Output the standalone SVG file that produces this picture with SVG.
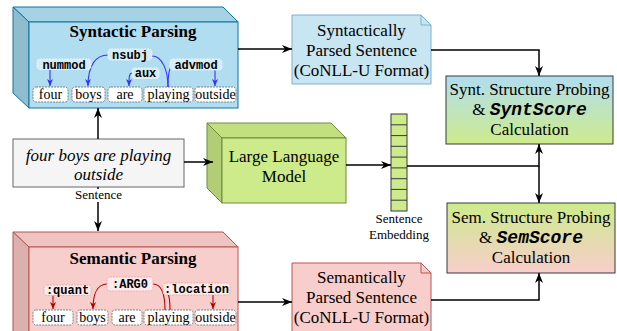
<svg xmlns="http://www.w3.org/2000/svg" width="617" height="331" viewBox="0 0 617 331" font-family="Liberation Serif, Times New Roman, serif">
<defs>
<marker id="arr" markerUnits="userSpaceOnUse" markerWidth="11" markerHeight="9" refX="10" refY="4" orient="auto">
<path d="M0,0 L10,4 L0,8 L3,4 z" fill="#000"/>
</marker>
<marker id="arrB" markerUnits="userSpaceOnUse" markerWidth="8" markerHeight="7" refX="7" refY="3" orient="auto">
<path d="M0,0 L7,3 L0,6 L2,3 z" fill="#3333ff"/>
</marker>
<marker id="arrR" markerUnits="userSpaceOnUse" markerWidth="8" markerHeight="7" refX="7" refY="3" orient="auto">
<path d="M0,0 L7,3 L0,6 L2,3 z" fill="#b20000"/>
</marker>
<linearGradient id="gSynt" x1="0" y1="0" x2="0" y2="1">
<stop offset="0" stop-color="#b1ddf0"/><stop offset="1" stop-color="#cdeb8b"/>
</linearGradient>
<linearGradient id="gSem" x1="0" y1="0" x2="0" y2="1">
<stop offset="0" stop-color="#cdeb8b"/><stop offset="1" stop-color="#f8cecc"/>
</linearGradient>
</defs>
<style>
.t17{font-size:17px}
.title{font-size:17px;font-weight:bold}
.word{font-size:14px}
.small{font-size:13px}
.mono{font-weight:bold;font-size:12px}
.wbox{fill:#fff;stroke:#666;stroke-width:0.8;stroke-dasharray:2 1}
.lblB{fill:#d7ebf6;stroke:#f4f9fc;stroke-width:0.8;stroke-dasharray:2 1}
.lblR{fill:#fcebea;stroke:#e2a5a3;stroke-width:0.8;stroke-dasharray:2 1}
.edge{fill:none;stroke:#000;stroke-width:1.5}
.eB{fill:none;stroke:#3333ff;stroke-width:1.1}
.eR{fill:none;stroke:#b20000;stroke-width:1.1}
</style>

<g id="syntactic-parsing">
<polygon points="13,7 223,7 238,22 29,22" fill="#a6d2e6" stroke="#10739e" stroke-width="1"/>
<polygon points="13,7 29,22 29,108 13,93" fill="#8fbccf" stroke="#10739e" stroke-width="1"/>
<rect x="29" y="22" width="209" height="86" fill="#b1ddf0" stroke="#10739e" stroke-width="1"/>
<text class="title" x="133" y="37" text-anchor="middle" font-family="Liberation Serif, serif">Syntactic Parsing</text>
<g id="synt-words" font-family="Liberation Serif, serif">
<rect class="wbox" x="33" y="87" width="35" height="15" rx="3"/>
<text class="word" x="50.5" y="99" text-anchor="middle">four</text>
<rect class="wbox" x="72" y="87" width="33" height="15" rx="3"/>
<text class="word" x="88.5" y="99" text-anchor="middle">boys</text>
<rect class="wbox" x="108" y="87" width="34" height="15" rx="3"/>
<text class="word" x="125" y="99" text-anchor="middle">are</text>
<rect class="wbox" x="144" y="87" width="49" height="15" rx="3"/>
<text class="word" x="168.5" y="99" text-anchor="middle">playing</text>
<rect class="wbox" x="195" y="87" width="41" height="15" rx="3"/>
<text class="word" x="215.5" y="99" text-anchor="middle">outside</text>
</g>
<g id="synt-arcs">
<path class="eB" d="M50,69 L50,86" marker-end="url(#arrB)"/>
<path class="eB" d="M108,55 C96,55 88,65 88,86" marker-end="url(#arrB)"/>
<path class="eB" d="M168,87 C168,70 162,56 152,56"/>
<path class="eB" d="M168,87 C168,76 169,68 172,66"/>
<path class="eB" d="M132,73 C129,73 129,78 129,86" marker-end="url(#arrB)"/>
<path class="eB" d="M215,70 L215,86" marker-end="url(#arrB)"/>
</g>
<g id="synt-labels" font-family="Liberation Mono, Courier New, monospace">
<rect class="lblB" x="37" y="59" width="54" height="10.5" rx="3"/>
<text class="mono" x="64" y="68.5" text-anchor="middle">nummod</text>
<rect class="lblB" x="108" y="49" width="44" height="11" rx="3"/>
<text class="mono" x="130" y="58.5" text-anchor="middle">nsubj</text>
<rect class="lblB" x="132" y="68" width="27" height="10.5" rx="3"/>
<text class="mono" x="145.5" y="77" text-anchor="middle">aux</text>
<rect class="lblB" x="170" y="59" width="52" height="11" rx="3"/>
<text class="mono" x="196" y="68.5" text-anchor="middle">advmod</text>
</g>
</g>

<g id="semantic-parsing">
<polygon points="13,232 223,232 238,247 29,247" fill="#efc3c1" stroke="#b85450" stroke-width="1"/>
<polygon points="13,232 29,247 29,340 13,340" fill="#dcb0ae" stroke="#b85450" stroke-width="1"/>
<rect x="29" y="247" width="209" height="90" fill="#f8cecc" stroke="#b85450" stroke-width="1"/>
<text class="title" x="133" y="264" text-anchor="middle" font-family="Liberation Serif, serif">Semantic Parsing</text>
<g id="sem-words" font-family="Liberation Serif, serif">
<rect class="wbox" x="33" y="310" width="40" height="15" rx="3"/>
<text class="word" x="53" y="322" text-anchor="middle">four</text>
<rect class="wbox" x="77" y="310" width="31" height="15" rx="3"/>
<text class="word" x="92.5" y="322" text-anchor="middle">boys</text>
<rect class="wbox" x="112" y="310" width="30" height="15" rx="3"/>
<text class="word" x="127" y="322" text-anchor="middle">are</text>
<rect class="wbox" x="144" y="310" width="49" height="15" rx="3"/>
<text class="word" x="168.5" y="322" text-anchor="middle">playing</text>
<rect class="wbox" x="195" y="310" width="41" height="15" rx="3"/>
<text class="word" x="215.5" y="322" text-anchor="middle">outside</text>
</g>
<g id="sem-arcs">
<path class="eR" d="M53,295 L53,309" marker-end="url(#arrR)"/>
<path class="eR" d="M107,284 C97,284 93,295 93,309" marker-end="url(#arrR)"/>
<path class="eR" d="M165,310 C165,295 162,284 153,284"/>
<path class="eR" d="M170,310 C170,298 168,290 164,290"/>
<path class="eR" d="M213,295 L213,309" marker-end="url(#arrR)"/>
</g>
<g id="sem-labels" font-family="Liberation Mono, Courier New, monospace">
<rect class="lblR" x="44" y="285" width="47" height="10.5" rx="3"/>
<text class="mono" x="67.5" y="294" text-anchor="middle">:quant</text>
<rect class="lblR" x="107" y="277" width="46" height="14" rx="3"/>
<text class="mono" x="130" y="288" text-anchor="middle">:ARG0</text>
<rect class="lblR" x="163" y="283" width="67" height="12" rx="3"/>
<text class="mono" x="196.5" y="293" text-anchor="middle">:location</text>
</g>
</g>

<g id="sentence" font-family="Liberation Serif, serif">
<rect x="13" y="139" width="171" height="48" fill="#f5f5f5" stroke="#666" stroke-width="1"/>
<text class="t17" x="98.5" y="161" text-anchor="middle" font-style="italic">four boys are playing</text>
<text class="t17" x="98.5" y="180" text-anchor="middle" font-style="italic">outside</text>
</g>

<g id="llm" font-family="Liberation Serif, serif">
<polygon points="207,123 331,123 346,138 222,138" fill="#c2e07f" stroke="#6d8c3c" stroke-width="1"/>
<polygon points="207,123 222,138 222,203 207,188" fill="#b2cd74" stroke="#6d8c3c" stroke-width="1"/>
<rect x="222" y="138" width="124" height="65" fill="#cdeb8b" stroke="#6d8c3c" stroke-width="1"/>
<text class="t17" x="284" y="162" text-anchor="middle">Large Language</text>
<text class="t17" x="284" y="182" text-anchor="middle">Model</text>
</g>

<g id="embedding" font-family="Liberation Serif, serif">
<rect x="391" y="114" width="16" height="97" fill="#cdeb8b" stroke="#36393d" stroke-width="1"/>
<path d="M391,124.8 H407 M391,135.6 H407 M391,146.3 H407 M391,157.1 H407 M391,167.9 H407 M391,178.7 H407 M391,189.4 H407 M391,200.2 H407" stroke="#36393d" stroke-width="1"/>
<text class="small" x="399" y="223" text-anchor="middle">Sentence</text>
<text class="small" x="399" y="239" text-anchor="middle">Embedding</text>
</g>

<g id="synt-parsed" font-family="Liberation Serif, serif">
<path d="M292,15 L421,15 L431,25 L431,84 L292,84 Z" fill="#c8e5f2" stroke="#7fb0d0" stroke-width="1"/>
<path d="M421,15 L421,25 L431,25" fill="none" stroke="#7fb0d0" stroke-width="1"/>
<text class="t17" x="361.5" y="36" text-anchor="middle">Syntactically</text>
<text class="t17" x="361.5" y="56" text-anchor="middle">Parsed Sentence</text>
<text class="t17" x="361.5" y="76" text-anchor="middle">(CoNLL-U Format)</text>
</g>

<g id="sem-parsed" font-family="Liberation Serif, serif">
<path d="M292,263 L421,263 L431,273 L431,340 L292,340 Z" fill="#f8cecc" stroke="#b85450" stroke-width="1"/>
<path d="M421,263 L421,273 L431,273" fill="none" stroke="#b85450" stroke-width="1"/>
<text class="t17" x="361.5" y="283" text-anchor="middle">Semantically</text>
<text class="t17" x="361.5" y="303" text-anchor="middle">Parsed Sentence</text>
<text class="t17" x="361.5" y="323" text-anchor="middle">(CoNLL-U Format)</text>
</g>

<g id="synt-score" font-family="Liberation Serif, serif">
<rect x="446" y="76" width="167" height="68" fill="url(#gSynt)" stroke="#36393d" stroke-width="1"/>
<text class="t17" x="529.5" y="95" text-anchor="middle">Synt. Structure Probing</text>
<text class="t17" x="529.5" y="115" text-anchor="middle">&amp; <tspan font-family="Liberation Mono, Courier New, monospace" font-weight="bold" font-style="italic" font-size="18">SyntScore</tspan></text>
<text class="t17" x="529.5" y="135" text-anchor="middle">Calculation</text>
</g>

<g id="sem-score" font-family="Liberation Serif, serif">
<rect x="447" y="203" width="168" height="70" fill="url(#gSem)" stroke="#36393d" stroke-width="1"/>
<text class="t17" x="531" y="223" text-anchor="middle">Sem. Structure Probing</text>
<text class="t17" x="531" y="243" text-anchor="middle">&amp; <tspan font-family="Liberation Mono, Courier New, monospace" font-weight="bold" font-style="italic" font-size="18">SemScore</tspan></text>
<text class="t17" x="531" y="263" text-anchor="middle">Calculation</text>
</g>

<g id="connectors">
<path class="edge" d="M238,49 L292,49" marker-end="url(#arr)"/>
<path class="edge" d="M431,50 L539,50 L539,76" marker-end="url(#arr)"/>
<path class="edge" d="M98,139 L98,108" marker-end="url(#arr)"/>
<path class="edge" d="M98,187 L98,231" marker-end="url(#arr)"/>
<path class="edge" d="M184,162 L213,162" marker-end="url(#arr)"/>
<path class="edge" d="M346,165 L391,165" marker-end="url(#arr)"/>
<path class="edge" d="M407,166 L539,166 L539,144" marker-end="url(#arr)"/>
<path class="edge" d="M539,166 L539,203" marker-end="url(#arr)"/>
<path class="edge" d="M238,302 L292,302" marker-end="url(#arr)"/>
<path class="edge" d="M431,300 L539,300 L539,273" marker-end="url(#arr)"/>
<rect x="72" y="189" width="53" height="13" fill="#fff"/>
<text class="small" x="98.5" y="199" text-anchor="middle" font-family="Liberation Serif, serif">Sentence</text>
</g>
</svg>
